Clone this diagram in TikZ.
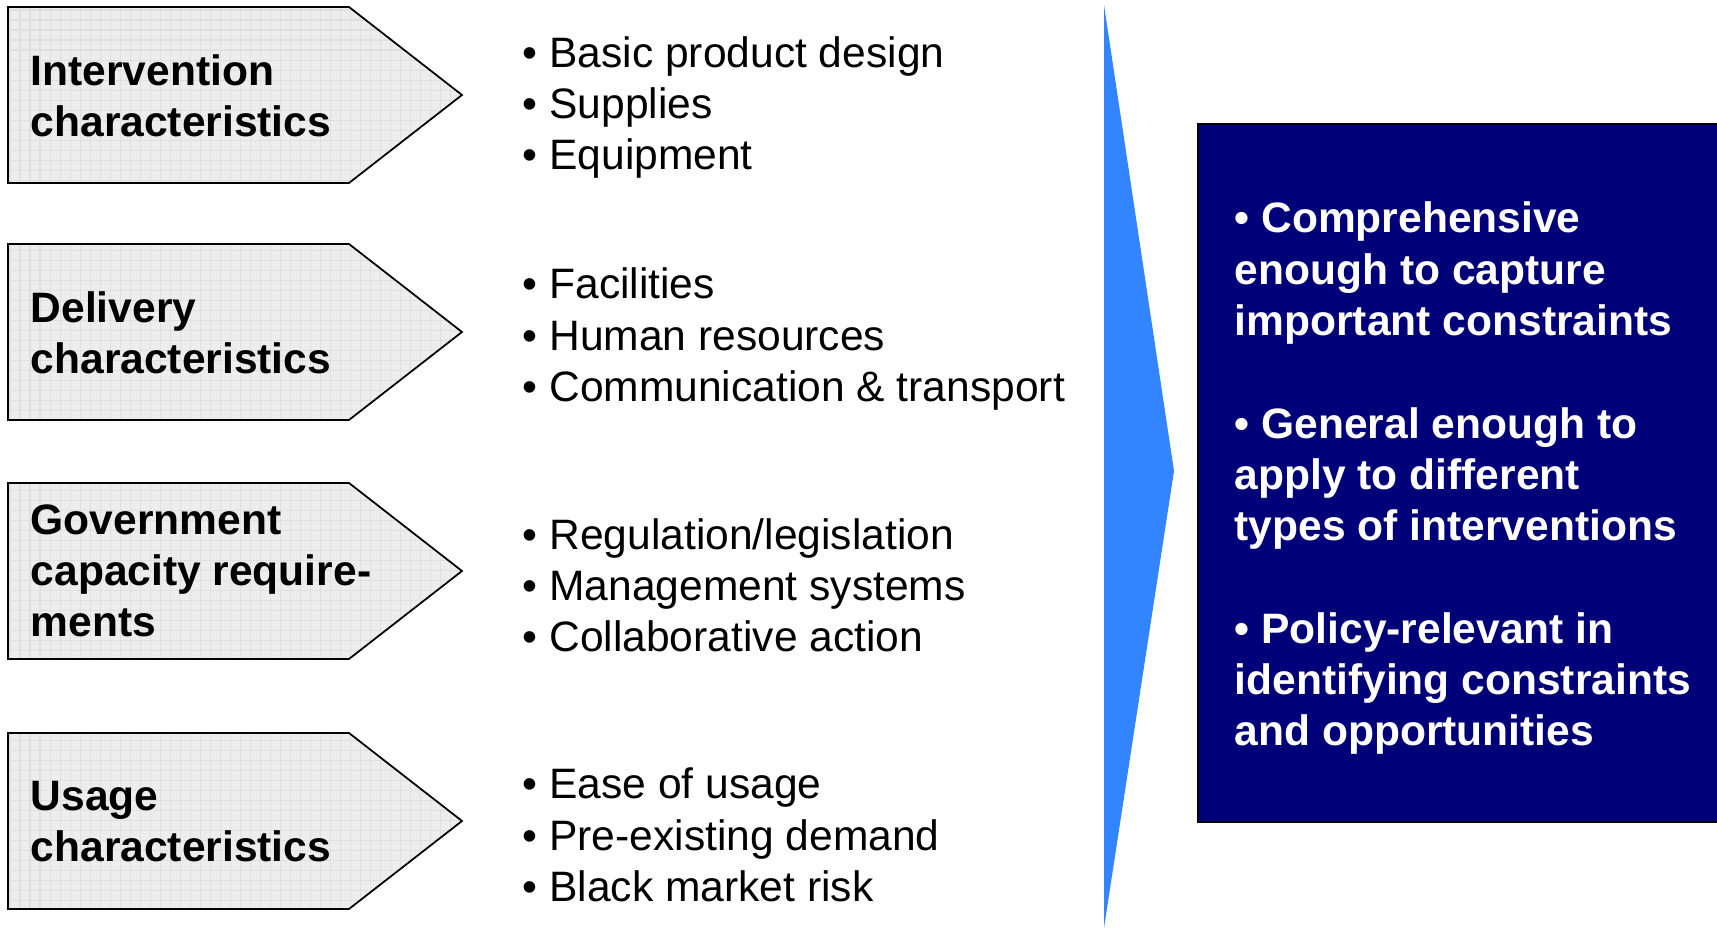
\documentclass[tikz,border=0pt]{standalone}
\usepackage{fontspec}
\setmainfont{Liberation Sans}
\definecolor{boxnavy}{RGB}{0,0,120}
\definecolor{arrowblue}{RGB}{51,133,255}
\definecolor{pentfill}{RGB}{237,237,237}
\definecolor{pentgrid}{RGB}{224,224,224}

\begin{document}
\begin{tikzpicture}[x=0.01cm, y=-0.01cm,
  pentbox/.style={fill=pentfill, draw=black, line width=0.5pt,
    path picture={\draw [pentgrid, step=0.1cm, line width=0.3pt] (path picture bounding box.south west) grid (path picture bounding box.north east);}},
  head/.style={anchor=base west, inner sep=0pt, align=left, font=\fontsize{12.1}{14.6}\selectfont\bfseries},
  item/.style={anchor=base west, inner sep=0pt, align=left, font=\fontsize{12.1}{14.6}\selectfont},
  claim/.style={anchor=base west, inner sep=0pt, align=left, text=white, font=\fontsize{12.1}{14.6}\selectfont\bfseries}]
\useasboundingbox (0,0) rectangle (1717,928);

% left side: the four characteristics
\draw [pentbox] (8,7) -- (349,7) -- (462,95) -- (349,183) -- (8,183) -- cycle;
\draw [pentbox] (8,244) -- (349,244) -- (462,332) -- (349,420) -- (8,420) -- cycle;
\draw [pentbox] (8,483) -- (349,483) -- (462,571) -- (349,659) -- (8,659) -- cycle;
\draw [pentbox] (8,733) -- (349,733) -- (462,821) -- (349,909) -- (8,909) -- cycle;

% (base of a multi-line node = last line)
\node [head] (intervention) at (30,137) {Intervention\\characteristics};
\node [head] (delivery) at (30,374) {Delivery\\characteristics};
\node [head] (government) at (30,637) {Government\\capacity require-\\ments};
\node [head] (usage) at (30,862) {Usage\\characteristics};

% middle: the items
\node [item] (interventionlist) at (522,170) {• Basic product design\\• Supplies\\• Equipment};
\node [item] (deliverylist) at (522,401.5) {• Facilities\\• Human resources\\• Communication \& transport};
\node [item] (capacitylist) at (522,652) {• Regulation/legislation\\• Management systems\\• Collaborative action};
\node [item] (usagelist) at (522,901.5) {• Ease of usage\\• Pre-existing demand\\• Black market risk};

% right side
\fill [arrowblue] (1104,5) -- (1174,471) -- (1104,928) -- cycle;
\draw [fill=boxnavy, draw=black, line width=0.5pt] (1198,124) rectangle (1725,822);

\node [claim] (comprehensive) at (1234,335.5) {• Comprehensive\\enough to capture\\important constraints};
\node [claim] (general) at (1234,541) {• General enough to\\apply to different\\types of interventions};
\node [claim] (relevant) at (1234,746) {• Policy-relevant in\\identifying constraints\\and opportunities};
\end{tikzpicture}
\end{document}
